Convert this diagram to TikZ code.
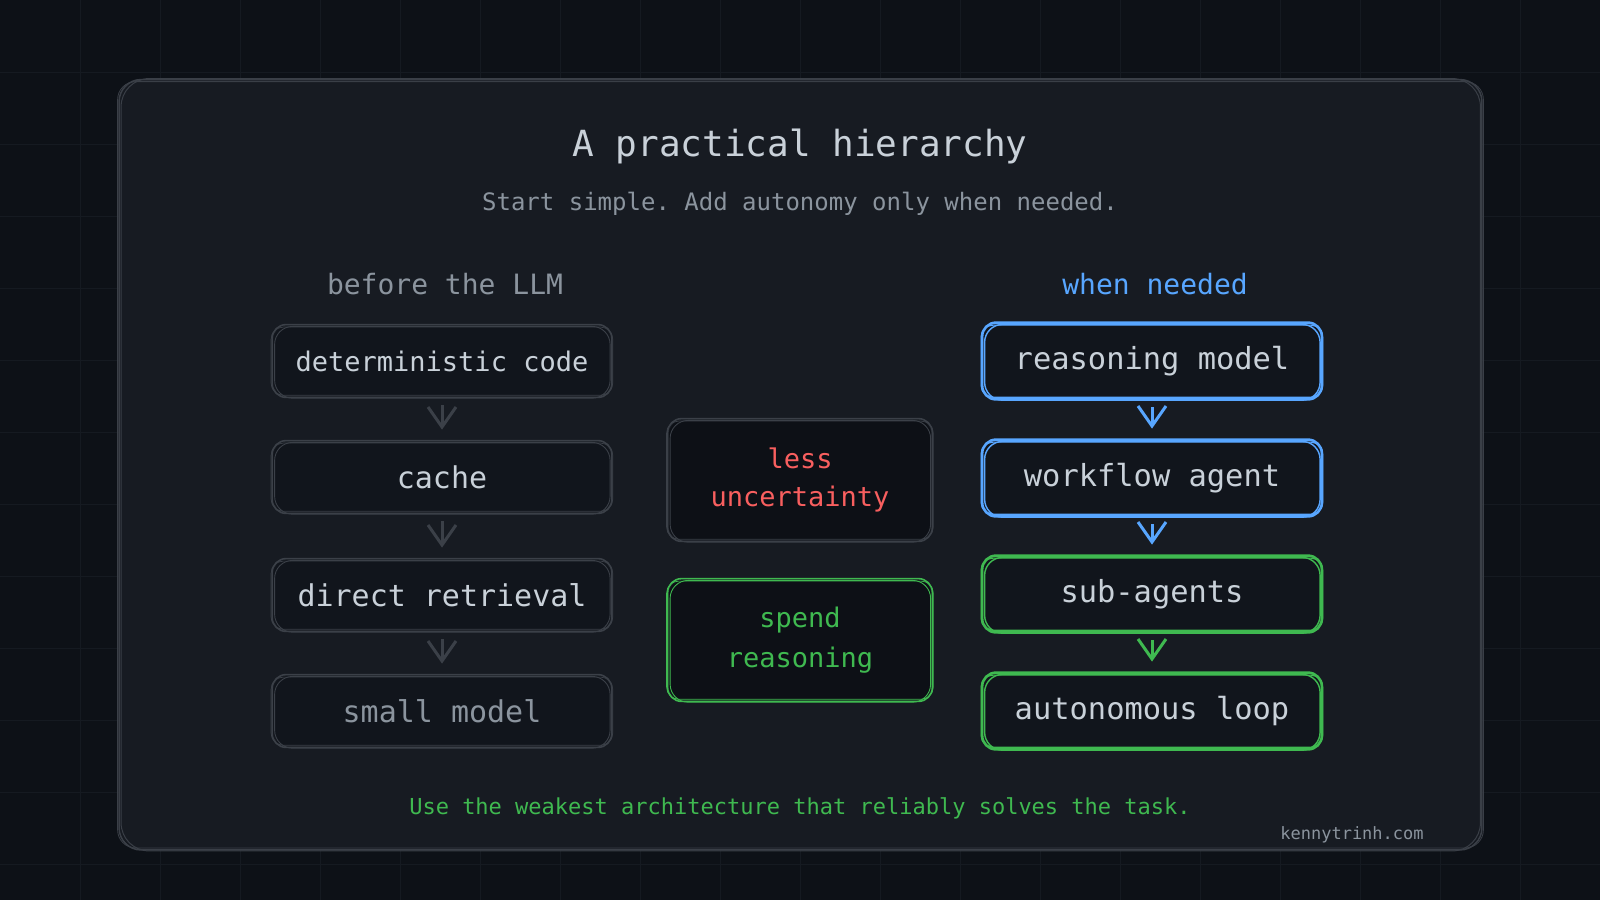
\documentclass[tikz,border=0pt]{standalone}
\usepackage{fontspec}
\setmonofont{DejaVu Sans Mono}
\usetikzlibrary{arrows.meta}
\definecolor{bg}{HTML}{0D1117}
\definecolor{gridc}{HTML}{151A21}
\definecolor{card}{HTML}{171B22}
\definecolor{cardedge}{HTML}{3A3F47}
\definecolor{boxfill}{HTML}{11151C}
\definecolor{midfill}{HTML}{0D1016}
\definecolor{txt}{HTML}{C9D1D9}
\definecolor{muted}{HTML}{8B949E}
\definecolor{blueC}{HTML}{58A6FF}
\definecolor{greenC}{HTML}{3FB950}
\definecolor{redC}{HTML}{F85F5F}
\definecolor{grayedge}{HTML}{3B4048}
% sketchy double outline around a named node: #1 node, #2 colour, #3 line width
\newcommand\skbox[3]{%
  \draw[#2, line width=#3, rounded corners=7pt]
    ([shift={(-1,-1)}]#1.north west) rectangle ([shift={(1,1)}]#1.south east);
  \draw[#2, line width=0.55*#3, rounded corners=9pt]
    ([shift={(1.5,0.8)}]#1.north west) rectangle ([shift={(-0.8,1.8)}]#1.south east);
  \draw[#2, line width=0.45*#3, rounded corners=6pt]
    ([shift={(-2,1.5)}]#1.north west) rectangle ([shift={(1.8,-1.2)}]#1.south east);
}
\begin{document}
\begin{tikzpicture}[x=0.5pt,y=-0.5pt,
  fs/.style={font=\ttfamily\fontsize{#1}{#1*1.2}\selectfont},
  lbox/.style={fill=boxfill, rounded corners=7pt,
    minimum width=168.5pt, minimum height=35pt, inner sep=0pt, text=txt,
    font=\ttfamily\fontsize{15pt}{18pt}\selectfont},
  rbox/.style={fill=boxfill, rounded corners=7pt,
    minimum width=168.5pt, minimum height=37pt, inner sep=0pt, text=txt,
    font=\ttfamily\fontsize{15.2pt}{18pt}\selectfont},
  mbox/.style={fill=midfill, rounded corners=7pt,
    minimum width=131pt, minimum height=60pt, inner sep=0pt, align=center},
  arr/.style={draw=#1, line width=1.5pt, shorten <=4.5pt, shorten >=6pt,
    -{Straight Barb[length=10pt,width=14pt,line width=1.5pt]}},
]
\path[use as bounding box, fill=bg] (0,0) rectangle (1600,900);
\foreach \gx in {80,160,...,1520} \draw[gridc, line width=0.5pt] (\gx,0) -- (\gx,900);
\foreach \gy in {72,144,...,864} \draw[gridc, line width=0.5pt] (0,\gy) -- (1600,\gy);

% card
\node[fill=card, rounded corners=11pt, minimum width=680.5pt, minimum height=384.5pt, inner sep=0pt] (card) at (800.5,464.5) {};
\draw[cardedge, line width=0.8pt, rounded corners=11pt]
  ([shift={(-0.5,0)}]card.north west) rectangle ([shift={(0.5,0.5)}]card.south east);
\draw[cardedge, line width=0.5pt, rounded corners=14pt]
  ([shift={(1.5,-1)}]card.north west) rectangle ([shift={(-1,1.5)}]card.south east);
\draw[cardedge, line width=0.4pt, rounded corners=9pt]
  ([shift={(-2,2)}]card.north west) rectangle ([shift={(2,-1.5)}]card.south east);

% titles
\node[fs=18pt, text=txt] (title) at (800,146) {A practical hierarchy};
\node[fs=12pt, text=muted] (sub) at (800,204) {Start simple. Add autonomy only when needed.};
\node[fs=14pt, text=muted] (hl) at (445,284) {before the LLM};
\node[fs=14pt, text=blueC] (hr) at (1155,284) {when needed};

% left column
\node[lbox, font=\ttfamily\fontsize{13.5pt}{16pt}\selectfont] (L1) at (442,361) {deterministic code};
\node[lbox] (L2) at (442,477) {cache};
\node[lbox] (L3) at (442,595) {direct retrieval};
\node[lbox, text=muted] (L4) at (442,711) {small model};
\foreach \n in {L1,L2,L3,L4} {\skbox{\n}{grayedge}{0.8pt}}
\draw[arr=grayedge] (L1) -- (L2);
\draw[arr=grayedge] (L2) -- (L3);
\draw[arr=grayedge] (L3) -- (L4);

% middle
\node[mbox, text=redC, font=\ttfamily\fontsize{13.5pt}{19pt}\selectfont] (M1) at (800,480) {less\\uncertainty};
\node[mbox, text=greenC, font=\ttfamily\fontsize{13.5pt}{20pt}\selectfont] (M2) at (800,640) {spend\\reasoning};
\skbox{M1}{grayedge}{0.8pt}
\skbox{M2}{greenC}{0.8pt}

% right column
\node[rbox] (R1) at (1152,361) {reasoning model};
\node[rbox] (R2) at (1152,478) {workflow agent};
\node[rbox] (R3) at (1152,594) {sub-agents};
\node[rbox] (R4) at (1152,711) {autonomous loop};
\skbox{R1}{blueC}{1.3pt}
\skbox{R2}{blueC}{1.3pt}
\skbox{R3}{greenC}{1.3pt}
\skbox{R4}{greenC}{1.3pt}
\draw[arr=blueC] (R1) -- (R2);
\draw[arr=blueC] (R2) -- (R3);
\draw[arr=greenC] (R3) -- (R4);

% footer
\node[fs=11pt, text=greenC] (foot) at (800,808) {Use the weakest architecture that reliably solves the task.};
\node[fs=8.5pt, text=muted] (mark) at (1352,835) {kennytrinh.com};
\end{tikzpicture}
\end{document}
